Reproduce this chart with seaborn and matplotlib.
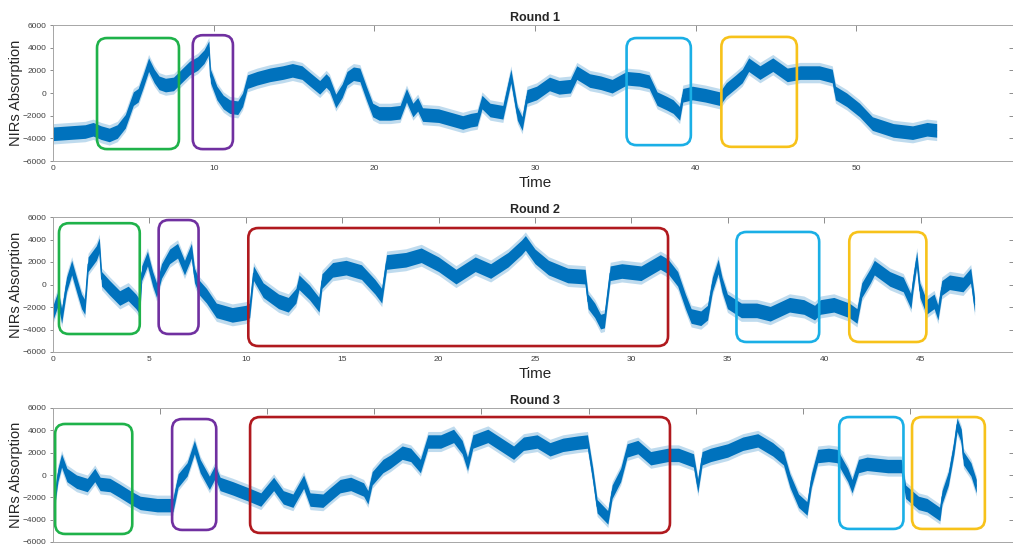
import numpy as np
import pandas as pd
import seaborn as sns
import matplotlib.pyplot as plt
from matplotlib.patches import FancyBboxPatch

sns.set_style("white")
plt.rcParams['font.family'] = ['Liberation Sans', 'DejaVu Sans']

# ---- data (time, centre of the noisy band) ----
t1 = [0, 1, 2, 2.5, 3, 3.5, 4, 4.5, 5, 5.3,
      5.6, 5.95, 6.3, 6.6, 7, 7.5, 8, 8.5, 9, 9.4,
      9.7, 9.8, 10.2, 10.6, 11, 11.5, 11.8, 12.1, 12.7, 13.5,
      14.3, 14.9, 15.5, 16, 16.6, 17, 17.2, 17.6, 18, 18.3,
      18.7, 19.1, 19.5, 19.9, 20.3, 21, 21.6, 22, 22.4, 22.7,
      23, 24, 25, 25.5, 26, 26.4, 26.7, 27.2, 28, 28.5,
      28.9, 29.2, 29.5, 30.1, 30.9, 31.5, 32.2, 32.6, 33.4, 34.1,
      34.8, 35.7, 36.5, 37.1, 37.6, 38.2, 38.6, 39, 39.2, 39.8,
      40.6, 41.5, 41.9, 42.5, 42.9, 43.3, 44, 44.8, 45.7, 46.5,
      47.7, 48.5, 48.7, 49.4, 50.2, 51, 52.3, 53.5, 54.4, 55]
v1 = [-3600, -3500, -3400, -3200, -3500, -3700, -3400, -2500, -500, -200,
      1000, 2500, 1500, 900, 700, 800, 1500, 2200, 2600, 3200,
      4000, 1500, 0, -800, -1200, -1300, -600, 1000, 1300, 1600,
      1800, 2000, 1800, 1200, 500, 1100, 800, -700, 200, 1300,
      1700, 1600, 0, -1500, -1800, -1800, -1700, -200, -1500, -1000,
      -1900, -2000, -2400, -2600, -2400, -2300, -800, -1500, -1700, 1500,
      -1800, -2700, -300, 0, 800, 500, 600, 1800, 1100, 900,
      600, 1300, 1200, 1000, -500, -900, -1200, -1800, -200, 0,
      -200, -500, 300, 1000, 1500, 2500, 1800, 2500, 1600, 1800,
      1800, 1500, 0, -600, -1500, -2700, -3300, -3500, -3200, -3300]

t2 = [0, 0.27, 0.45, 0.7, 0.97, 1.22, 1.48, 1.65, 1.82, 2.25,
      2.4, 2.52, 2.94, 3.46, 3.9, 4.3, 4.5, 4.6, 4.9, 5.17,
      5.37, 5.63, 6.05, 6.46, 6.82, 7.18, 7.34, 7.6, 7.96, 8.47,
      9.3, 10, 10.2, 10.4, 10.9, 11.7, 12.2, 12.6, 12.76, 13.3,
      13.8, 13.95, 14.5, 15.2, 16, 16.7, 17.05, 17.3, 18.3, 19.1,
      20, 20.9, 21.9, 22.7, 23.6, 24.3, 24.5, 25, 25.7, 26.7,
      27.6, 27.75, 28.1, 28.4, 28.6, 28.9, 29.5, 30.5, 31.5, 31.9,
      32.4, 32.8, 33.1, 33.6, 33.95, 34.2, 34.5, 34.7, 34.98, 35.7,
      36.5, 37.2, 38.2, 38.95, 39.5, 39.8, 40.5, 41.3, 41.7, 41.95,
      42.4, 42.6, 43.4, 44.1, 44.5, 44.6, 44.8, 44.96, 45.3, 45.7,
      45.9, 46.1, 46.5, 47.2, 47.6, 47.8]
v2 = [-2500, -1200, -2800, 0, 1500, 0, -1500, -2000, 1800, 2800,
      3500, 500, -300, -1200, -800, -1500, -2000, 1000, 2300, 500,
      -500, 1200, 2500, 3000, 1500, 3000, 800, -300, -1000, -2300,
      -2700, -2500, -2300, 1000, -500, -1500, -1800, -1000, 200, -700,
      -1800, 300, 1300, 1500, 1100, -200, -1000, 2000, 2200, 2600,
      1800, 700, 1800, 1200, 2200, 3300, 3700, 2500, 1500, 800,
      700, -1500, -2300, -3300, -3200, 1000, 1200, 1000, 2000, 1600,
      500, -1500, -2800, -3000, -2500, 0, 1600, 0, -1500, -2300,
      -2300, -2600, -1800, -2000, -2500, -2000, -1800, -2300, -2800, -500,
      800, 1500, 500, 0, -1500, 0, 2300, -500, -2000, -1500,
      -2500, -300, 200, 0, 800, -1800]

t3 = [0, 0.23, 0.4, 0.65, 1.1, 1.6, 1.95, 2.2, 2.66, 3.1,
      3.6, 4.07, 4.86, 5.6, 5.84, 6.26, 6.6, 6.87, 7.3, 7.57,
      7.8, 8.4, 9.07, 9.7, 10.3, 10.75, 11.2, 11.7, 12, 12.6,
      12.9, 13.4, 13.9, 14.5, 14.7, 14.9, 15.4, 15.75, 16.3, 16.7,
      17.15, 17.5, 18.1, 18.7, 19.1, 19.35, 19.6, 20.3, 20.7, 21.5,
      21.96, 22.6, 23.2, 23.8, 24.5, 24.95, 25.2, 25.4, 25.9, 26.1,
      26.5, 26.8, 27.3, 27.9, 28.7, 29.2, 29.9, 30.1, 30.3, 30.7,
      31.5, 32.2, 32.9, 33.6, 34.1, 34.4, 34.8, 35.2, 35.4, 35.7,
      36.2, 36.6, 37.1, 37.3, 37.6, 38, 38.97, 39.6, 39.8, 40.4,
      40.8, 41.4, 41.5, 41.8, 42.06, 42.2, 42.4, 42.5, 42.85, 43.1]
v3 = [-3300, 0, 1300, 0, -600, -900, 0, -800, -900, -1400,
      -2000, -2500, -2700, -2700, -500, 500, 2500, 800, -700, 300,
      -800, -1200, -1700, -2200, -800, -2000, -2300, -600, -2200, -2300,
      -1800, -1000, -800, -1300, -2000, -300, 800, 1200, 2000, 1800,
      800, 3000, 3000, 3500, 2500, 1000, 3000, 3500, 3000, 2000,
      2800, 3000, 2300, 2700, 2900, 3000, 0, -2800, -3800, -1500,
      0, 2200, 2500, 1500, 1800, 1800, 1300, -1000, 1500, 1800,
      2200, 2800, 3100, 2300, 1500, -500, -2300, -3000, -500, 1700,
      1800, 1700, 0, -1000, 800, 1000, 800, 800, -1500, -2500,
      -2700, -3500, -2000, -300, 2500, 4500, 3500, 1500, 500, -1000]

# half-width of the noisy band per round
spread = [600, 650, 600]

titles = ["Round 1", "Round 2", "Round 3"]
xmax = [60, 50, 45]
xstep = [10, 5, 5]

green, purple, red = "#1fb24a", "#7030a0", "#b0191e"
cyan, yellow = "#1aafe6", "#f7c21a"

# highlighted segments: (t start, t end, low, high, colour)
boxes1 = [(2.74, 7.84, -4950, 4850, green), (8.7, 11.2, -4950, 5100, purple),
          (35.7, 39.7, -4600, 4850, cyan), (41.6, 46.3, -4750, 4950, yellow)]
boxes2 = [(0.31, 4.5, -4400, 5450, green), (5.48, 7.55, -4400, 5730, purple),
          (10.13, 31.9, -5470, 5020, red), (35.45, 39.74, -5110, 4670, cyan),
          (41.3, 45.3, -5110, 4670, yellow)]
boxes3 = [(0.1, 3.7, -5280, 4570, green), (5.56, 7.62, -4920, 5010, purple),
          (9.2, 28.8, -5190, 5190, red), (36.7, 39.7, -4830, 5190, cyan),
          (40.1, 43.5, -4830, 5190, yellow)]

series = [(t1, v1), (t2, v2), (t3, v3)]
boxes = [boxes1, boxes2, boxes3]

W, H = 1013, 544
fig = plt.figure(figsize=(W / 100, H / 100), dpi=100)
# axes frames in pixels: left, top, right, bottom
frames = [(53, 25, 1017, 161), (53, 217, 1017, 352), (53, 408, 1017, 542)]

blue = "#0072bd"

for i in range(3):
    l, t, r, b = frames[i]
    ax = fig.add_axes([l / W, 1 - b / H, (r - l) / W, (b - t) / H])
    tt, vv = series[i]
    df = pd.DataFrame({"t": tt, "v": vv})
    s = spread[i]
    ax.fill_between(df.t, df.v - 1.5 * s, df.v + 1.5 * s, color=blue, alpha=0.25, lw=0)
    ax.fill_between(df.t, df.v - s, df.v + s, color=blue, lw=0)
    sns.lineplot(data=df, x="t", y="v", ax=ax, color=blue, lw=0.8)

    ax.set_xlim(0, xmax[i])
    ax.set_ylim(-6000, 6000)
    ax.set_xticks(np.arange(0, xmax[i] + 1, xstep[i]))
    ax.set_yticks(np.arange(-6000, 6001, 2000))
    ax.tick_params(axis="x", direction="in", top=True, length=4.5, width=0.7,
                   labelsize=6, colors="#8c8c8c", labelcolor="#404040", pad=3)
    ax.tick_params(axis="y", which="major", left=True, right=True, width=0.7,
                   labelsize=6, colors="#8c8c8c", labelcolor="#404040", pad=2)
    ax.yaxis.set_tick_params(which="major", direction="out", length=2.5)
    for tk in ax.yaxis.get_major_ticks():
        tk.tick2line.set_markersize(6)
        tk.tick2line.set_marker(0)
    if i == 2:
        ax.tick_params(labelbottom=False)
    for sp in ax.spines.values():
        sp.set_color("#a6a6a6")
        sp.set_linewidth(0.7)

    ax.set_title(titles[i], fontsize=9, fontweight="bold", pad=3)
    ax.set_ylabel("NIRs Absorption", fontsize=10.5, color="#262626", labelpad=0)
    if i < 2:
        ax.set_xlabel("Time", fontsize=11, color="#262626", labelpad=3)
    else:
        ax.set_xlabel("")

    # make the rounded corners circular in pixels
    px_x = (r - l) / xmax[i]
    px_y = (b - t) / 12000
    aspect = px_x / px_y
    rad = 10 / px_x
    for x0, x1, y0, y1, c in boxes[i]:
        patch = FancyBboxPatch((x0, y0), x1 - x0, y1 - y0,
                               boxstyle=f"round,pad=0,rounding_size={rad}",
                               mutation_aspect=aspect, fill=False,
                               edgecolor=c, lw=1.9, clip_on=False, zorder=5)
        ax.add_patch(patch)

fig.savefig("out.png", dpi=100)
